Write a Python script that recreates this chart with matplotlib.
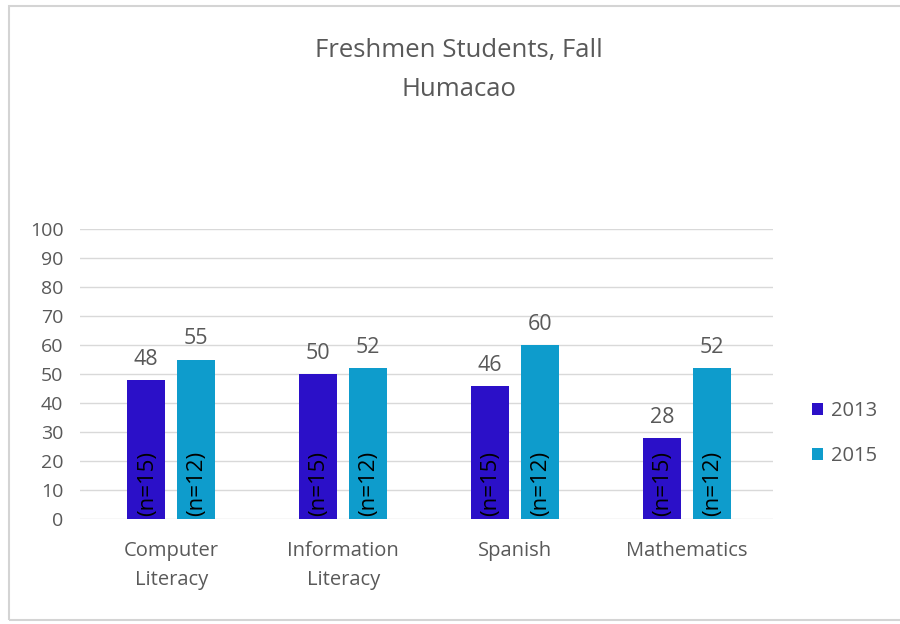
import matplotlib.pyplot as plt
import matplotlib.patches as patches
import numpy as np

categorias = ['Computer\nLiteracy', 'Information\nLiteracy', 'Spanish', 'Mathematics']
valores_2013 = [48, 50, 46, 28]
valores_2015 = [55, 52, 60, 52]
n_2013 = ['(n=15)', '(n=15)', '(n=15)', '(n=15)']
n_2015 = ['(n=12)', '(n=12)', '(n=12)', '(n=12)']
series = ['2013', '2015']

color_2013 = '#2b10c8'
color_2015 = '#0e9ccc'
gris = '#595959'

plt.rcParams['font.family'] = ['Open Sans', 'DejaVu Sans']

fig = plt.figure(figsize=(9, 6.24), dpi=100)
ax = fig.add_axes([0.089, 0.168, 0.77, 0.465])

# marco gris de la figura
fig.patches.append(patches.Rectangle((0.010, 0.006), 1.2, 0.985, transform=fig.transFigure,
                                     fill=False, edgecolor='#d4d4d4', linewidth=1.5))

x = np.arange(len(categorias))
ancho = 0.22
off = 0.145

b1 = ax.bar(x - off, valores_2013, ancho, color=color_2013, label=series[0], zorder=2)
b2 = ax.bar(x + off, valores_2015, ancho, color=color_2015, label=series[1], zorder=2)

for barras, vals, ns in [(b1, valores_2013, n_2013), (b2, valores_2015, n_2015)]:
    for b, v, n in zip(barras, vals, ns):
        cx = b.get_x() + b.get_width() / 2
        ax.text(cx, v + 3.5, str(v), ha='center', va='bottom', fontsize=15.5, color=gris)
        ax.text(cx + 0.005, 1.0, n, ha='center', va='bottom', rotation=90, fontsize=16, color='black')

ax.set_ylim(0, 100)
ax.set_xlim(-0.53, 3.5)
ax.set_yticks(range(0, 101, 10))
ax.yaxis.grid(True, color='#d9d9d9', linewidth=1, zorder=0)
ax.set_axisbelow(True)
for s in ax.spines.values():
    s.set_visible(False)
ax.tick_params(axis='both', length=0, colors=gris)
ax.tick_params(axis='y', pad=12, labelsize=14)
ax.tick_params(axis='x', pad=16)
ax.set_xticks(x)
ax.set_xticklabels(categorias, fontsize=14.5, linespacing=1.6)

fig.text(0.51, 0.888, 'Freshmen Students, Fall\nHumacao', ha='center', va='center',
         fontsize=18.5, color=gris, linespacing=1.7)

fig.legend(handles=[b1, b2], labels=series, loc='center left', bbox_to_anchor=(0.882, 0.305),
           frameon=False, fontsize=14.5, handlelength=0.55, handleheight=0.55,
           handletextpad=0.4, labelspacing=1.25, labelcolor=gris)

fig.savefig('out.png', dpi=100)
